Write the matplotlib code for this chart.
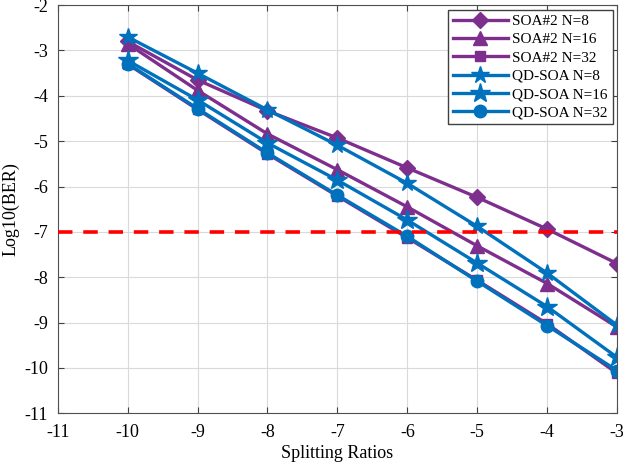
import matplotlib.pyplot as plt

# BER vs splitting ratio for SOA#2 and QD-SOA at different N
ratios = [-10, -9, -8, -7, -6, -5, -4, -3]
soa_n8 = [-2.80, -3.65, -4.33, -4.93, -5.59, -6.24, -6.94, -7.70]
soa_n16 = [-2.85, -3.88, -4.84, -5.63, -6.45, -7.31, -8.14, -9.10]
soa_n32 = [-3.30, -4.30, -5.28, -6.21, -7.13, -8.07, -9.03, -10.12]
qd_n8 = [-2.70, -3.50, -4.31, -5.09, -5.93, -6.88, -7.91, -9.06]
qd_n16 = [-3.22, -4.09, -5.04, -5.86, -6.74, -7.69, -8.65, -9.77]
qd_n32 = [-3.29, -4.28, -5.26, -6.19, -7.10, -8.09, -9.07, -10.06]
threshold = -7

purple = '#7E2F8E'
blue = '#0072BD'

plt.rcParams['font.family'] = ['Liberation Serif', 'DejaVu Serif']
plt.rcParams['font.size'] = 13
plt.rcParams['axes.unicode_minus'] = False

fig = plt.figure(figsize=(6.23, 4.69), dpi=100)
ax = fig.add_axes([0.0926, 0.119, 0.898, 0.870])

lw = 2.4
ax.plot(ratios, soa_n8, color=purple, lw=lw, marker='D', ms=8, label='SOA#2 N=8')
ax.plot(ratios, soa_n16, color=purple, lw=lw, marker='^', ms=10, label='SOA#2 N=16')
ax.plot(ratios, soa_n32, color=purple, lw=lw, marker='s', ms=7, label='SOA#2 N=32')
ax.plot(ratios, qd_n8, color=blue, lw=lw, marker='*', ms=13, label='QD-SOA N=8')
ax.plot(ratios, qd_n16, color=blue, lw=lw, marker='*', ms=15, label='QD-SOA N=16')
ax.plot(ratios, qd_n32, color=blue, lw=lw, marker='o', ms=9, label='QD-SOA N=32')
ax.axhline(threshold, color='#FF0000', lw=2.6, ls=(0, (4, 3)), zorder=3)

ax.set_xlim(-11, -3)
ax.set_ylim(-11, -2)
ax.set_xticks(range(-11, -2))
ax.set_yticks(range(-11, -1))
ax.grid(True, color='#DADADA', lw=0.8)
ax.tick_params(direction='in', top=True, right=True, color='#404040', length=4)
ax.tick_params(axis='x', pad=8)
ax.tick_params(axis='y', pad=7)
for sp in ax.spines.values():
    sp.set_color('#505050')

ax.set_xlabel('Splitting Ratios', labelpad=3)
ax.set_ylabel('Log10(BER)', labelpad=3)

leg = ax.legend(loc='upper right', fancybox=False, framealpha=1, edgecolor='#404040',
                handlelength=3.6, borderpad=0.3, labelspacing=0.3, handletextpad=0.3,
                borderaxespad=0.3, fontsize=11)
leg.get_frame().set_linewidth(1.0)

fig.savefig('out.png', dpi=100)
